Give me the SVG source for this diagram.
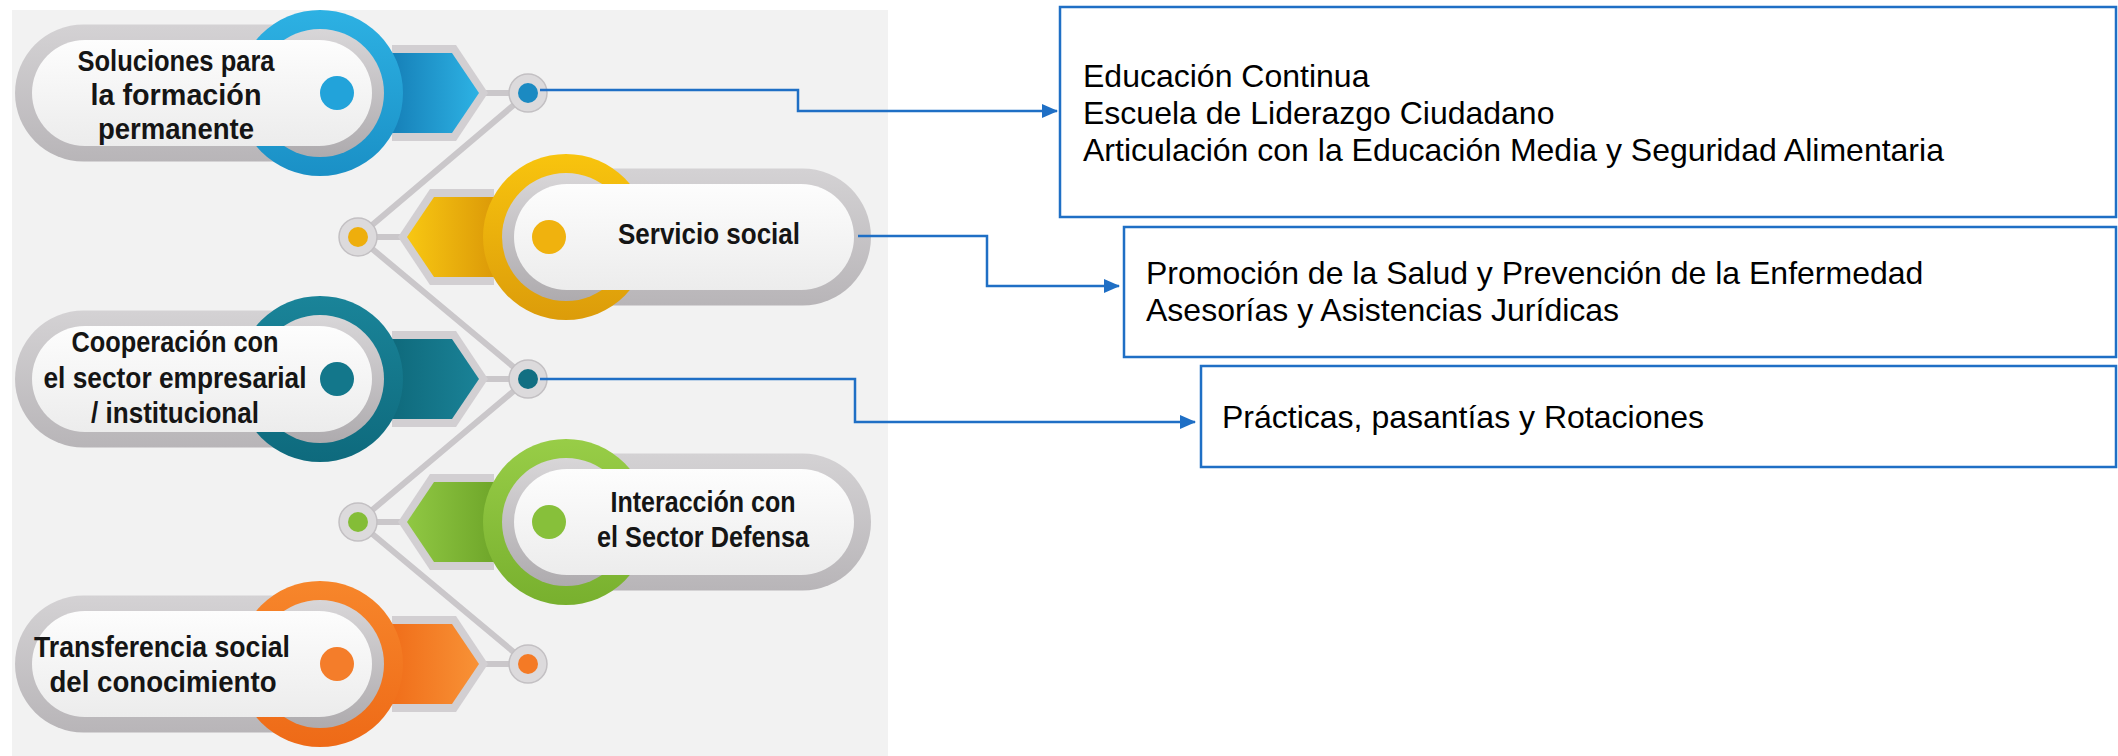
<svg xmlns="http://www.w3.org/2000/svg" width="2118" height="756" viewBox="0 0 2118 756">
<style>
.lbl{font-family:"Liberation Sans",Arial,sans-serif;font-weight:bold;font-size:29px;fill:#151515;text-anchor:middle}
.txt{font-family:"Liberation Sans",Arial,sans-serif;font-size:32px;fill:#000}
.box{fill:#fff;stroke:#1f6fc5;stroke-width:2.5}
.conn{fill:none;stroke:#1f6fc5;stroke-width:2.5}
.opill{fill:url(#gOuter)}
.gcirc{fill:url(#gGrayCirc)}
.wpill{fill:url(#gWhite)}
.hexb{fill:#d2cfd2}
.sring{fill:#dcdadc;stroke:#c3c0c3;stroke-width:1.5}
.spine{fill:none;stroke:#cac7ca;stroke-width:6;stroke-linejoin:round;stroke-linecap:round}
</style>
<defs>
<linearGradient id="gOuter" x1="0" y1="0" x2="0" y2="1"><stop offset="0" stop-color="#d4d2d4"/><stop offset="1" stop-color="#b8b5b8"/></linearGradient>
<linearGradient id="gGrayCirc" x1="0" y1="0" x2="0" y2="1"><stop offset="0" stop-color="#d8d6d8"/><stop offset="1" stop-color="#aeabae"/></linearGradient>
<linearGradient id="gWhite" x1="0" y1="0" x2="0" y2="1"><stop offset="0" stop-color="#fdfdfd"/><stop offset="1" stop-color="#ececec"/></linearGradient>
<linearGradient id="rBlue" x1="0" y1="0" x2="0" y2="1"><stop offset="0" stop-color="#2db1e3"/><stop offset="1" stop-color="#1a90c6"/></linearGradient>
<linearGradient id="hBlue" x1="0" y1="0" x2="1" y2="0"><stop offset="0" stop-color="#1680b8"/><stop offset="1" stop-color="#2db2e4"/></linearGradient>
<linearGradient id="rYel" x1="0" y1="0" x2="0" y2="1"><stop offset="0" stop-color="#f8c40e"/><stop offset="1" stop-color="#dc9c0a"/></linearGradient>
<linearGradient id="hYel" x1="1" y1="0" x2="0" y2="0"><stop offset="0" stop-color="#dc9a08"/><stop offset="1" stop-color="#f8c712"/></linearGradient>
<linearGradient id="rTeal" x1="0" y1="0" x2="0" y2="1"><stop offset="0" stop-color="#1a8499"/><stop offset="1" stop-color="#0e6a7d"/></linearGradient>
<linearGradient id="hTeal" x1="0" y1="0" x2="1" y2="0"><stop offset="0" stop-color="#0f6a7c"/><stop offset="1" stop-color="#1a8297"/></linearGradient>
<linearGradient id="rGreen" x1="0" y1="0" x2="0" y2="1"><stop offset="0" stop-color="#98cd47"/><stop offset="1" stop-color="#78b02e"/></linearGradient>
<linearGradient id="hGreen" x1="1" y1="0" x2="0" y2="0"><stop offset="0" stop-color="#6fa62a"/><stop offset="1" stop-color="#90c843"/></linearGradient>
<linearGradient id="rOr" x1="0" y1="0" x2="0" y2="1"><stop offset="0" stop-color="#f7862b"/><stop offset="1" stop-color="#ee6a17"/></linearGradient>
<linearGradient id="hOr" x1="0" y1="0" x2="1" y2="0"><stop offset="0" stop-color="#f06e1a"/><stop offset="1" stop-color="#f89236"/></linearGradient>
<marker id="arr" markerUnits="userSpaceOnUse" markerWidth="16" markerHeight="14" refX="15" refY="7" orient="auto"><path d="M0,0 L16,7 L0,14 Z" fill="#1f6fc5"/></marker>
</defs>

<rect x="0" y="0" width="2118" height="756" fill="#fff"/>
<rect id="panel" x="12" y="10" width="876" height="746" fill="#f2f2f2"/>

<g id="spine">
<polyline class="spine" points="528,93 358,237 528,379 358,522 528,664"/>
<line class="spine" x1="484" y1="93" x2="512" y2="93"/>
<line class="spine" x1="374" y1="237" x2="402" y2="237"/>
<line class="spine" x1="484" y1="379" x2="512" y2="379"/>
<line class="spine" x1="374" y1="522" x2="402" y2="522"/>
<line class="spine" x1="484" y1="664" x2="512" y2="664"/>
</g>

<g id="item-soluciones">
<polygon class="hexb" points="392,45 456,45 488,93 456,141 392,141"/>
<polygon fill="url(#hBlue)" points="392,53 452,53 479,93 452,133 392,133"/>
<circle class="sring" cx="528" cy="93" r="19"/><circle cx="528" cy="93" r="10" fill="#1b8ac2"/>
<rect class="opill" x="15" y="24.5" width="380" height="137" rx="68.5"/>
<circle cx="320" cy="93" r="83" fill="url(#rBlue)"/>
<circle class="gcirc" cx="320" cy="93" r="64"/>
<rect class="wpill" x="32" y="40" width="340" height="106" rx="53"/>
<circle cx="337" cy="93" r="17" fill="#22a3da"/>
<text class="lbl" x="176" y="71" textLength="197" lengthAdjust="spacingAndGlyphs">Soluciones para</text>
<text class="lbl" x="176" y="105" textLength="171" lengthAdjust="spacingAndGlyphs">la formación</text>
<text class="lbl" x="176" y="139" textLength="156" lengthAdjust="spacingAndGlyphs">permanente</text>
</g>

<g id="item-servicio">
<polygon class="hexb" points="494,189 430,189 398,237 430,285 494,285"/>
<polygon fill="url(#hYel)" points="494,197 434,197 407,237 434,277 494,277"/>
<circle class="sring" cx="358" cy="237" r="19"/><circle cx="358" cy="237" r="10" fill="#eeae0c"/>
<rect class="opill" x="491" y="168.5" width="380" height="137" rx="68.5"/>
<circle cx="566" cy="237" r="83" fill="url(#rYel)"/>
<circle class="gcirc" cx="566" cy="237" r="64"/>
<rect class="wpill" x="514" y="184" width="340" height="106" rx="53"/>
<circle cx="549" cy="237" r="17" fill="#f0b20e"/>
<text class="lbl" x="709" y="244" textLength="182" lengthAdjust="spacingAndGlyphs">Servicio social</text>
</g>

<g id="item-cooperacion">
<polygon class="hexb" points="392,331 456,331 488,379 456,427 392,427"/>
<polygon fill="url(#hTeal)" points="392,339 452,339 479,379 452,419 392,419"/>
<circle class="sring" cx="528" cy="379" r="19"/><circle cx="528" cy="379" r="10" fill="#126f82"/>
<rect class="opill" x="15" y="310.5" width="380" height="137" rx="68.5"/>
<circle cx="320" cy="379" r="83" fill="url(#rTeal)"/>
<circle class="gcirc" cx="320" cy="379" r="64"/>
<rect class="wpill" x="32" y="326" width="340" height="106" rx="53"/>
<circle cx="337" cy="379" r="17" fill="#13778b"/>
<text class="lbl" x="175" y="352" textLength="207" lengthAdjust="spacingAndGlyphs">Cooperación con</text>
<text class="lbl" x="175" y="388" textLength="263" lengthAdjust="spacingAndGlyphs">el sector empresarial</text>
<text class="lbl" x="175" y="423" textLength="168" lengthAdjust="spacingAndGlyphs">/ institucional</text>
</g>

<g id="item-interaccion">
<polygon class="hexb" points="494,474 430,474 398,522 430,570 494,570"/>
<polygon fill="url(#hGreen)" points="494,482 434,482 407,522 434,562 494,562"/>
<circle class="sring" cx="358" cy="522" r="19"/><circle cx="358" cy="522" r="10" fill="#84bd37"/>
<rect class="opill" x="491" y="453.5" width="380" height="137" rx="68.5"/>
<circle cx="566" cy="522" r="83" fill="url(#rGreen)"/>
<circle class="gcirc" cx="566" cy="522" r="64"/>
<rect class="wpill" x="514" y="469" width="340" height="106" rx="53"/>
<circle cx="549" cy="522" r="17" fill="#87c03a"/>
<text class="lbl" x="703" y="512" textLength="185" lengthAdjust="spacingAndGlyphs">Interacción con</text>
<text class="lbl" x="703" y="547" textLength="212" lengthAdjust="spacingAndGlyphs">el Sector Defensa</text>
</g>

<g id="item-transferencia">
<polygon class="hexb" points="392,616 456,616 488,664 456,712 392,712"/>
<polygon fill="url(#hOr)" points="392,624 452,624 479,664 452,704 392,704"/>
<circle class="sring" cx="528" cy="664" r="19"/><circle cx="528" cy="664" r="10" fill="#f47a25"/>
<rect class="opill" x="15" y="595.5" width="380" height="137" rx="68.5"/>
<circle cx="320" cy="664" r="83" fill="url(#rOr)"/>
<circle class="gcirc" cx="320" cy="664" r="64"/>
<rect class="wpill" x="32" y="611" width="340" height="106" rx="53"/>
<circle cx="337" cy="664" r="17" fill="#f47d2a"/>
<text class="lbl" x="162" y="657" textLength="256" lengthAdjust="spacingAndGlyphs">Transferencia social</text>
<text class="lbl" x="163" y="692" textLength="227" lengthAdjust="spacingAndGlyphs">del conocimiento</text>
</g>

<g id="box-formacion">
<rect class="box" x="1060" y="7" width="1056" height="210"/>
<text class="txt" x="1083" y="87">Educación Continua</text>
<text class="txt" x="1083" y="124">Escuela de Liderazgo Ciudadano</text>
<text class="txt" x="1083" y="161">Articulación con la Educación Media y Seguridad Alimentaria</text>
</g>

<g id="box-servicio">
<rect class="box" x="1124" y="227" width="992" height="130"/>
<text class="txt" x="1146" y="284">Promoción de la Salud y Prevención de la Enfermedad</text>
<text class="txt" x="1146" y="321">Asesorías y Asistencias Jurídicas</text>
</g>

<g id="box-cooperacion">
<rect class="box" x="1201" y="366" width="915" height="101"/>
<text class="txt" x="1222" y="428">Prácticas, pasantías y Rotaciones</text>
</g>

<g id="connectors">
<path class="conn" d="M540,90 H798 V111 H1057" marker-end="url(#arr)"/>
<path class="conn" d="M858,236 H987 V286 H1119" marker-end="url(#arr)"/>
<path class="conn" d="M540,379 H855 V422 H1195" marker-end="url(#arr)"/>
</g>
</svg>
